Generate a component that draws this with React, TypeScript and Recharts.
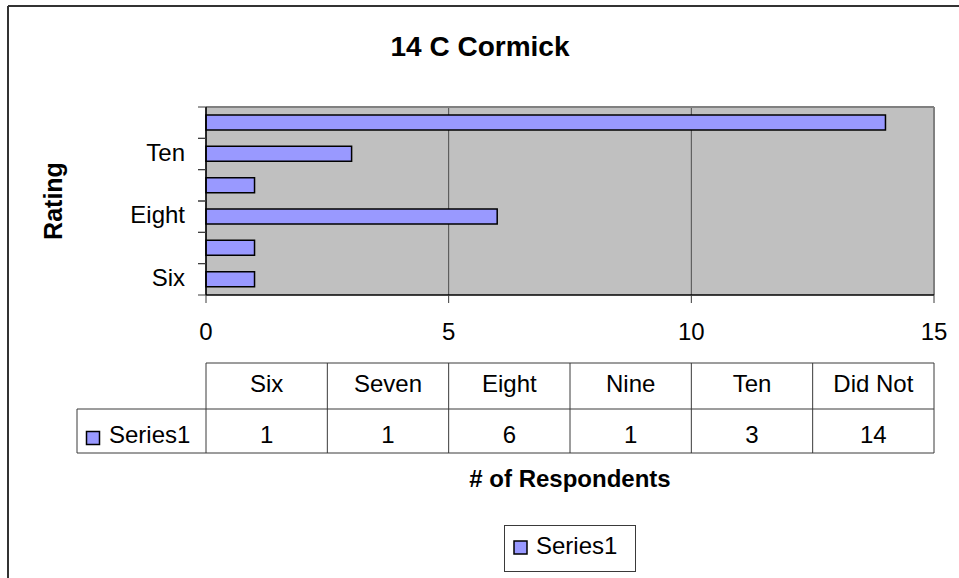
import React from 'react';
import { BarChart, Bar, XAxis, YAxis, CartesianGrid, Customized } from 'recharts';

const title = '14 C Cormick';
const yAxisTitle = 'Rating';
const xAxisTitle = '# of Respondents';
const seriesName = 'Series1';
const categories = ['Six', 'Seven', 'Eight', 'Nine', 'Ten', 'Did Not'];
const series1 = [1, 1, 6, 1, 3, 14];
const xTicks = [0, 5, 10, 15];
const yTickLabels = ['Six', 'Eight', 'Ten'];

const data = categories.map((c, i) => ({ category: c, value: series1[i] }));

const W = 959;
const H = 578;
const PLOT_X = 206;
const PLOT_Y = 107;
const PLOT_R = 934;
const PLOT_B = 295;
const PLOT_W = PLOT_R - PLOT_X;
const PLOT_H = PLOT_B - PLOT_Y;
const BAND = PLOT_H / categories.length;
const Y_AXIS_W = 60;
const X_AXIS_H = 30;
const FONT = '"Liberation Sans", Arial, sans-serif';
const BAR_FILL = '#9999FF';
const LINE = '#3a3a3a';

const YTick = (props: any) => {
  const { x, y, payload } = props;
  const half = BAND / 2;
  return (
    <g>
      <line x1={x - 8} x2={x} y1={y - half} y2={y - half} stroke={LINE} strokeWidth={1} />
      <line x1={x - 8} x2={x} y1={y + half} y2={y + half} stroke={LINE} strokeWidth={1} />
      {yTickLabels.includes(payload.value) && (
        <text x={x - 21} y={y + 6.5} textAnchor="end" fontFamily={FONT} fontSize={24} fill="#000">
          {payload.value}
        </text>
      )}
    </g>
  );
};

const XTick = (props: any) => {
  const { x, y, payload } = props;
  return (
    <text x={x} y={y + 37} textAnchor="middle" fontFamily={FONT} fontSize={24} fill="#000">
      {payload.value}
    </text>
  );
};

const Decorations = () => {
  const colW = PLOT_W / categories.length;
  const r0 = 363;
  const r1 = 409;
  const r2 = 453;
  const tableLeft = 77;
  return (
    <g>
      {/* outer chart border */}
      <line x1={8} y1={6} x2={W} y2={6} stroke="#333" strokeWidth={2} />
      <line x1={8} y1={6} x2={8} y2={H} stroke="#333" strokeWidth={2} />
      {/* plot area border (top/right) */}
      <line x1={PLOT_X} y1={PLOT_Y} x2={PLOT_R} y2={PLOT_Y} stroke="#808080" strokeWidth={2} />
      <line x1={PLOT_R} y1={PLOT_Y} x2={PLOT_R} y2={PLOT_B} stroke="#808080" strokeWidth={2} />
      {/* title */}
      <text x={480} y={56} textAnchor="middle" fontFamily={FONT} fontSize={28} fontWeight="bold" fill="#000">
        {title}
      </text>
      {/* y axis title */}
      <text
        transform={`translate(62, 201) rotate(-90)`}
        textAnchor="middle"
        fontFamily={FONT}
        fontSize={25}
        fontWeight="bold"
        fill="#000"
      >
        {yAxisTitle}
      </text>
      {/* data table */}
      <line x1={PLOT_X} y1={r0} x2={PLOT_R} y2={r0} stroke={LINE} strokeWidth={1} />
      <line x1={tableLeft} y1={r1} x2={PLOT_R} y2={r1} stroke={LINE} strokeWidth={1} />
      <line x1={tableLeft} y1={r2} x2={PLOT_R} y2={r2} stroke={LINE} strokeWidth={1} />
      <line x1={tableLeft} y1={r1} x2={tableLeft} y2={r2} stroke={LINE} strokeWidth={1} />
      {categories.map((c, i) => (
        <line key={'v' + i} x1={PLOT_X + i * colW} y1={r0} x2={PLOT_X + i * colW} y2={r2} stroke={LINE} strokeWidth={1} />
      ))}
      <line x1={PLOT_R} y1={r0} x2={PLOT_R} y2={r2} stroke={LINE} strokeWidth={1} />
      {categories.map((c, i) => (
        <text key={'h' + i} x={PLOT_X + (i + 0.5) * colW} y={392} textAnchor="middle" fontFamily={FONT} fontSize={24} fill="#000">
          {c}
        </text>
      ))}
      {series1.map((v, i) => (
        <text key={'d' + i} x={PLOT_X + (i + 0.5) * colW} y={443} textAnchor="middle" fontFamily={FONT} fontSize={24} fill="#000">
          {v}
        </text>
      ))}
      <rect x={86.5} y={431.5} width={13} height={13} fill={BAR_FILL} stroke="#000" strokeWidth={1.5} />
      <text x={109} y={443} fontFamily={FONT} fontSize={24} fill="#000">
        {seriesName}
      </text>
      {/* x axis title */}
      <text x={(PLOT_X + PLOT_R) / 2} y={487} textAnchor="middle" fontFamily={FONT} fontSize={24} fontWeight="bold" fill="#000">
        {xAxisTitle}
      </text>
      {/* legend */}
      <rect x={504.5} y={525.5} width={131} height={46} fill="#fff" stroke={LINE} strokeWidth={1} />
      <rect x={514} y={541} width={13} height={13} fill={BAR_FILL} stroke="#000" strokeWidth={1.5} />
      <text x={536} y={554} fontFamily={FONT} fontSize={24} fill="#000">
        {seriesName}
      </text>
    </g>
  );
};

export default function App() {
  return (
    <div style={{ position: 'absolute', left: 0, top: 0, width: W, height: H, overflow: 'hidden', background: '#fff' }}>
      <BarChart
        width={W}
        height={H}
        layout="vertical"
        data={data}
        margin={{ top: PLOT_Y, right: W - PLOT_R, bottom: H - PLOT_B - X_AXIS_H, left: PLOT_X - Y_AXIS_W }}
        barSize={15}
      >
        <CartesianGrid horizontal={false} vertical={true} fill="#C0C0C0" stroke="#4d4d4d" fillOpacity={1} />
        <XAxis
          type="number"
          domain={[0, 15]}
          ticks={xTicks}
          interval={0}
          height={X_AXIS_H}
          axisLine={{ stroke: '#000', strokeWidth: 1.5 }}
          tickLine={{ stroke: LINE }}
          tickSize={8}
          tickMargin={0}
          tick={<XTick />}
        />
        <YAxis
          type="category"
          dataKey="category"
          reversed
          width={Y_AXIS_W}
          interval={0}
          axisLine={{ stroke: '#000', strokeWidth: 1.5 }}
          tickLine={false}
          tickSize={0}
          tickMargin={0}
          tick={<YTick />}
        />
        <Bar dataKey="value" fill={BAR_FILL} stroke="#000" strokeWidth={1.5} isAnimationActive={false} />
        <Customized component={Decorations} />
      </BarChart>
    </div>
  );
}
